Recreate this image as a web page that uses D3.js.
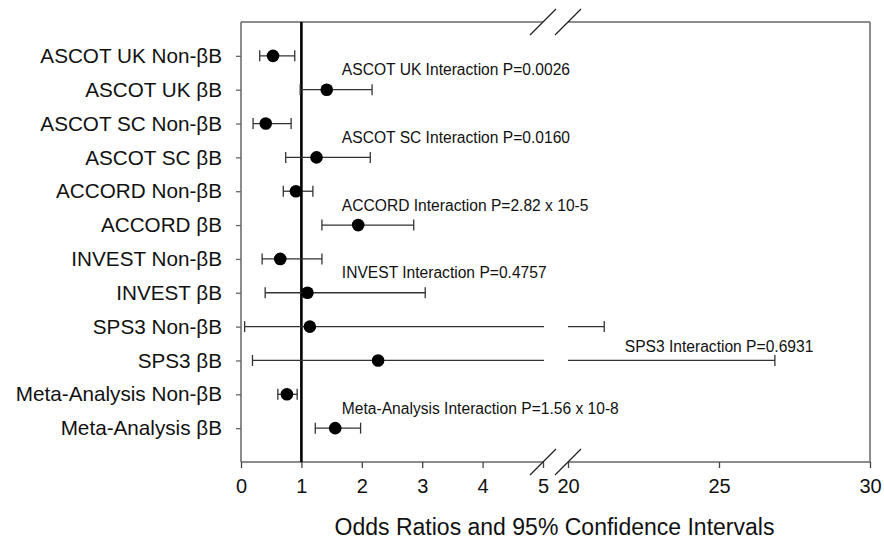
<!DOCTYPE html>
<html>
<head>
<meta charset="utf-8">
<script src="https://cdn.jsdelivr.net/npm/d3@7"></script>
<style>
  body { margin: 0; background: #fff; }
  svg text { font-family: Arial, "Liberation Sans", sans-serif; fill: #111; }
</style>
</head>
<body>
<div id="chart"></div>
<script>
// rows, top to bottom
var categories = ["ASCOT UK Non-βB", "ASCOT UK βB", "ASCOT SC Non-βB", "ASCOT SC βB",
                  "ACCORD Non-βB", "ACCORD βB", "INVEST Non-βB", "INVEST βB",
                  "SPS3 Non-βB", "SPS3 βB", "Meta-Analysis Non-βB", "Meta-Analysis βB"];
var oddsRatio = [0.53, 1.42, 0.41, 1.25, 0.91, 1.94, 0.65, 1.10, 1.14, 2.27, 0.76, 1.56];
var lowerCI   = [0.31, 0.98, 0.20, 0.74, 0.70, 1.34, 0.35, 0.40, 0.06, 0.19, 0.61, 1.23];
var upperCI   = [0.89, 2.17, 0.83, 2.14, 1.19, 2.86, 1.34, 3.05, 21.2, 26.85, 0.93, 1.98];

var studies = ["ASCOT UK", "ASCOT SC", "ACCORD", "INVEST", "SPS3", "Meta-Analysis"];
var interactionP = ["0.0026", "0.0160", "2.82 x 10-5", "0.4757", "0.6931", "1.56 x 10-8"];

var lowTicks = [0, 1, 2, 3, 4, 5];
var highTicks = [20, 25, 30];

var W = 884, H = 547;
var pLeft = 241, pRight = 870, pTop = 22, pBottom = 462;
var breakA = 543, breakB = 568;

var svg = d3.select("#chart").append("svg")
  .attr("width", W)
  .attr("height", H);

var xLow = d3.scaleLinear().domain([0, 5]).range([pLeft, breakA]);
var xHigh = d3.scaleLinear().domain([20, 30]).range([breakB, pRight]);
function x(v) { return v <= 5 ? xLow(v) : xHigh(v); }

var y = d3.scalePoint().domain(categories).range([pTop, pBottom]).padding(1);

var frameColor = "#666";

// frame
var frame = svg.append("g").attr("stroke", frameColor).attr("stroke-width", 1.5).attr("fill", "none");
frame.append("line").attr("x1", pLeft).attr("x2", pLeft).attr("y1", pTop).attr("y2", pBottom);
frame.append("line").attr("x1", pRight).attr("x2", pRight).attr("y1", pTop).attr("y2", pBottom);
[pTop, pBottom].forEach(function(yy) {
  frame.append("line").attr("x1", pLeft).attr("x2", breakA).attr("y1", yy).attr("y2", yy);
  frame.append("line").attr("x1", breakB).attr("x2", pRight).attr("y1", yy).attr("y2", yy);
});

// x axis, two segments
function styleAxis(g) {
  g.select(".domain").remove();
  g.selectAll(".tick line").attr("stroke", "#444").attr("stroke-width", 1.3);
  g.selectAll(".tick text").attr("font-size", "20px").attr("fill", "#111")
    .style("font-family", "Arial, 'Liberation Sans', sans-serif");
}
svg.append("g").attr("transform", "translate(0," + pBottom + ")")
  .call(d3.axisBottom(xLow).tickValues(lowTicks).tickSize(6).tickPadding(11).tickFormat(d3.format("d")))
  .call(styleAxis);
svg.append("g").attr("transform", "translate(0," + pBottom + ")")
  .call(d3.axisBottom(xHigh).tickValues(highTicks).tickSize(6).tickPadding(11).tickFormat(d3.format("d")))
  .call(styleAxis);

// y axis
svg.append("g").attr("transform", "translate(" + pLeft + ",0)")
  .call(d3.axisLeft(y).tickSize(5).tickPadding(14))
  .call(function(g) {
    g.select(".domain").remove();
    g.selectAll(".tick line").attr("stroke", frameColor).attr("stroke-width", 1.3);
    g.selectAll(".tick text").attr("font-size", "20.7px").attr("fill", "#111")
      .style("font-family", "Arial, 'Liberation Sans', sans-serif");
  });

// break marks
[breakA, breakB].forEach(function(bx) {
  [pTop, pBottom].forEach(function(by) {
    svg.append("line")
      .attr("x1", bx - 13).attr("y1", by + 13)
      .attr("x2", bx + 13).attr("y2", by - 13)
      .attr("stroke", "#222").attr("stroke-width", 1.3);
  });
});

// reference line at 1
svg.append("line")
  .attr("x1", x(1)).attr("x2", x(1))
  .attr("y1", pTop).attr("y2", pBottom)
  .attr("stroke", "#000").attr("stroke-width", 2.6);

// error bars
var rows = categories.map(function(c, i) {
  return { cat: c, or: oddsRatio[i], lo: lowerCI[i], hi: upperCI[i] };
});

var bars = svg.append("g").attr("stroke", "#333").attr("stroke-width", 1.3);
rows.forEach(function(d) {
  var yy = y(d.cat);
  if (d.hi > 5) {
    bars.append("line").attr("x1", x(d.lo)).attr("x2", breakA + 1).attr("y1", yy).attr("y2", yy);
    bars.append("line").attr("x1", breakB).attr("x2", x(d.hi)).attr("y1", yy).attr("y2", yy);
  } else {
    bars.append("line").attr("x1", x(d.lo)).attr("x2", x(d.hi)).attr("y1", yy).attr("y2", yy);
  }
  [d.lo, d.hi].forEach(function(v) {
    bars.append("line").attr("x1", x(v)).attr("x2", x(v)).attr("y1", yy - 5.5).attr("y2", yy + 5.5);
  });
});

svg.append("g").selectAll("circle")
  .data(rows)
  .enter()
  .append("circle")
  .attr("cx", function(d) { return x(d.or); })
  .attr("cy", function(d) { return y(d.cat); })
  .attr("r", 6.3)
  .attr("fill", "#000");

// interaction annotations, between each pair of rows
studies.forEach(function(s, i) {
  var yA = y(categories[2 * i]), yB = y(categories[2 * i + 1]);
  var broken = upperCI[2 * i + 1] > 5;
  svg.append("text")
    .attr("x", broken ? x(21.88) : x(1.67))
    .attr("y", (yA + yB) / 2 + (broken ? 3 : -3))
    .attr("dominant-baseline", "central")
    .attr("font-size", "15.6px")
    .text(s + " Interaction P=" + interactionP[i]);
});

// axis title
svg.append("text")
  .attr("x", (pLeft + pRight) / 2 - 1)
  .attr("y", 527)
  .attr("text-anchor", "middle")
  .attr("dominant-baseline", "central")
  .attr("font-size", "23px")
  .text("Odds Ratios and 95% Confidence Intervals");
</script>
</body>
</html>
